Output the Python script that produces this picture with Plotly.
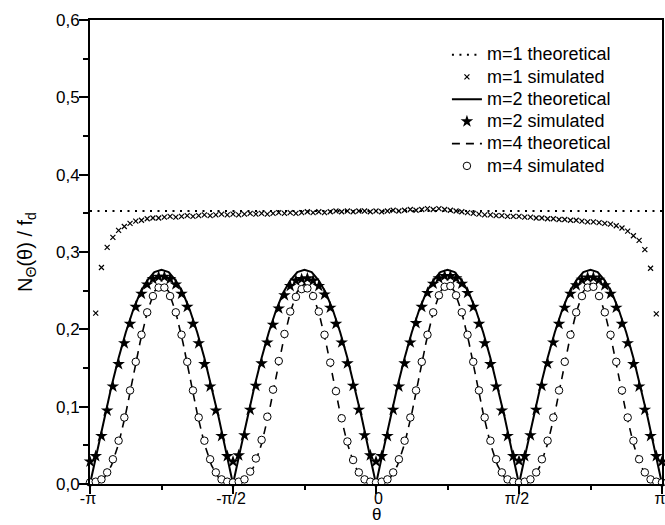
import numpy as np
import plotly.graph_objects as go

PI = np.pi

# ---- data ----
# theoretical curves sampled every pi/40 from -pi to pi (81 samples)
m1_theory = [0.353, 0.353]
m2_theory = [
    0, .043, .086, .126, .163, .196, .224, .247, .263, .274, .277, .274, .263, .247, .224, .196, .163, .126, .086, .043,
    0, .043, .086, .126, .163, .196, .224, .247, .263, .274, .277, .274, .263, .247, .224, .196, .163, .126, .086, .043,
    0, .043, .086, .126, .163, .196, .224, .247, .263, .274, .277, .274, .263, .247, .224, .196, .163, .126, .086, .043,
    0, .043, .086, .126, .163, .196, .224, .247, .263, .274, .277, .274, .263, .247, .224, .196, .163, .126, .086, .043,
    0]
m4_theory = [
    0, .001, .008, .024, .052, .091, .137, .183, .222, .249, .259, .249, .222, .183, .137, .091, .052, .024, .008, .001,
    0, .001, .008, .024, .052, .091, .137, .183, .222, .249, .259, .249, .222, .183, .137, .091, .052, .024, .008, .001,
    0, .001, .008, .024, .052, .091, .137, .183, .222, .249, .259, .249, .222, .183, .137, .091, .052, .024, .008, .001,
    0, .001, .008, .024, .052, .091, .137, .183, .222, .249, .259, .249, .222, .183, .137, .091, .052, .024, .008, .001,
    0]

# simulated: samples every pi/50
m1_sim = [
    .221, .280, .306, .319, .328, .333, .337, .340, .341, .343,
    .344, .344, .345, .346, .345, .346, .347, .346, .347, .348,
    .347, .348, .349, .348, .349, .348, .349, .350, .349, .350,
    .349, .350, .351, .350, .351, .350, .351, .352, .351, .352,
    .351, .352, .353, .352, .353, .352, .353, .353, .352, .353,
    .352, .353, .354, .353, .354, .355, .354, .355, .356, .355,
    .356, .355, .354, .353, .352, .351, .350, .349, .348, .348,
    .347, .347, .346, .346, .346, .345, .345, .344, .344, .343,
    .343, .342, .342, .341, .341, .340, .339, .339, .338, .337,
    .336, .334, .331, .327, .321, .315, .303, .279, .220]
m2_sim = [
    .029,
    .036, .062, .095, .126, .155, .182, .207, .229, .246, .258, .265, .268, .268, .265, .258, .246, .229, .207, .182, .155, .126, .095, .062, .036,
    .029,
    .037, .063, .096, .127, .156, .183, .206, .227, .244, .256, .263, .265, .266, .263, .256, .245, .228, .207, .183, .156, .127, .096, .063, .037,
    .029,
    .036, .062, .096, .126, .156, .183, .208, .229, .247, .259, .266, .269, .269, .266, .259, .247, .229, .207, .182, .155, .126, .095, .062, .036,
    .030,
    .036, .063, .096, .127, .156, .183, .207, .228, .246, .257, .264, .267, .267, .264, .257, .246, .228, .207, .182, .155, .126, .096, .062, .036,
    .029]
m4_sim = [
    .002,
    .003, .006, .015, .032, .056, .086, .121, .158, .193, .222, .243, .254, .254, .243, .222, .193, .158, .121, .086, .056, .032, .015, .006, .003,
    .002,
    .003, .006, .016, .033, .057, .087, .122, .159, .194, .223, .242, .252, .253, .243, .223, .193, .157, .120, .085, .055, .031, .015, .006, .003,
    .002,
    .003, .006, .015, .032, .056, .086, .121, .158, .193, .222, .244, .255, .256, .244, .222, .193, .158, .121, .086, .056, .032, .015, .006, .003,
    .002,
    .003, .006, .015, .032, .056, .086, .121, .158, .193, .222, .243, .254, .255, .243, .222, .193, .158, .121, .086, .056, .032, .015, .006, .003,
    .002]

legend_names = ["m=1 theoretical", "m=1 simulated", "m=2 theoretical",
                "m=2 simulated", "m=4 theoretical", "m=4 simulated"]
x_tickvals = [-PI, -PI / 2, 0, PI / 2, PI]
x_ticktext = ["-π", "-π/2", "&nbsp;&nbsp;0", "π/2", "π"]
x_minor = [-3 * PI / 4, -PI / 4, PI / 4, 3 * PI / 4]
x_title = "θ"
y_title = "N<sub>Θ</sub>(θ) / f<sub>d</sub>"

theta_theory = np.linspace(-PI, PI, len(m2_theory))
theta_m1_theory = [-PI, PI]
theta_sim = np.linspace(-PI, PI, len(m2_sim))
theta_m1_sim = theta_sim[1:-1]

FONT = "Liberation Sans, Arial, sans-serif"


def lg(name):
    return '<span style="font-size:18px">' + name + '</span>'


fig = go.Figure()
fig.add_trace(go.Scatter(x=theta_m1_theory, y=m1_theory, mode="lines", name=lg(legend_names[0]),
                         line=dict(color="black", width=2, dash="2px,5.5px")))
fig.add_trace(go.Scatter(x=theta_m1_sim, y=m1_sim, mode="markers", name=lg(legend_names[1]),
                         marker=dict(symbol="x-thin-open", size=5, color="black", line=dict(width=1.2, color="black"))))
fig.add_trace(go.Scatter(x=theta_theory, y=m2_theory, mode="lines", name=lg(legend_names[2]),
                         line=dict(color="black", width=2)))
fig.add_trace(go.Scatter(x=theta_sim, y=m2_sim, mode="markers", name=lg(legend_names[3]),
                         marker=dict(symbol="star", size=9.5, color="black", line=dict(width=0))))
fig.add_trace(go.Scatter(x=theta_theory, y=m4_theory, mode="lines", name=lg(legend_names[4]),
                         line=dict(color="black", width=1.6, dash="8px,6px")))
fig.add_trace(go.Scatter(x=theta_sim, y=m4_sim, mode="markers", name=lg(legend_names[5]),
                         marker=dict(symbol="circle", size=7.5, color="white", line=dict(width=1, color="black"))))

fig.update_traces(cliponaxis=False)

fig.add_annotation(text=x_title, xref="x", yref="paper", x=0, y=0, yshift=-30,
                   xanchor="center", yanchor="middle", showarrow=False,
                   font=dict(size=17, family=FONT, color="black"))

fig.update_layout(
    width=665, height=525,
    margin=dict(l=90, r=3, t=20, b=41),
    paper_bgcolor="white", plot_bgcolor="white",
    separators=",.",
    font=dict(family=FONT, size=16, color="black"),
    showlegend=True,
    legend=dict(x=0.624, y=0.96, xanchor="left", yanchor="top", bgcolor="rgba(0,0,0,0)",
                font=dict(size=14.8, family=FONT), tracegroupgap=0),
    xaxis=dict(range=[-PI, PI], showline=True, linecolor="black", linewidth=2, mirror=True,
               showgrid=False, zeroline=False, automargin=False,
               tickmode="array", tickvals=x_tickvals, ticktext=x_ticktext,
               ticks="outside", ticklen=8, tickwidth=1.5, tickcolor="black",
               ticklabelstandoff=-9, ticklabelshift=-2, ticklabeloverflow="allow",
               minor=dict(tickmode="array", tickvals=x_minor, ticks="outside", ticklen=4,
                          tickwidth=1.5, tickcolor="black")),
    yaxis=dict(range=[0, 0.6], showline=True, linecolor="black", linewidth=2, mirror=True,
               showgrid=False, zeroline=False, automargin=False,
               tickmode="linear", tick0=0, dtick=0.1, tickformat=".1f",
               ticks="outside", ticklen=9, tickwidth=1.5, tickcolor="black",
               ticklabelstandoff=-4, tickfont=dict(size=17),
               minor=dict(dtick=0.05, ticks="outside", ticklen=5, tickwidth=1.5, tickcolor="black"),
               title=dict(text=y_title, font=dict(size=20), standoff=18)),
)

fig.write_html("out.html", config={"displayModeBar": False},
               post_script="document.body.style.margin='0px';")
